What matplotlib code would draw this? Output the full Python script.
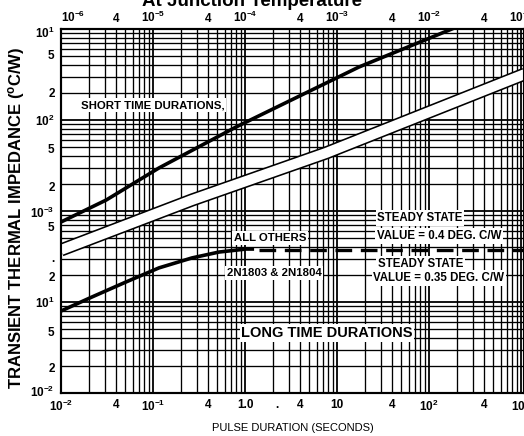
import numpy as np
import matplotlib
matplotlib.use("Agg")
from matplotlib import pyplot as plt

plt.rcParams['font.family'] = ['Liberation Sans', 'DejaVu Sans']
plt.rcParams['font.weight'] = 'bold'
plt.rcParams['mathtext.fontset'] = 'custom'
plt.rcParams['mathtext.rm'] = 'Liberation Sans:bold'
plt.rcParams['mathtext.it'] = 'Liberation Sans:bold'
plt.rcParams['mathtext.bf'] = 'Liberation Sans:bold'

# --- courbes (t en s, Z en unites de l'axe) ---
short_t = [0.01, 0.031, 0.116, 0.8, 17.3, 223]
short_z = [0.757, 1.32, 2.97, 8.38, 38.2, 110]

band_t = [0.01, 0.265, 7.6, 1100]
band_z = [0.373, 1.32, 4.34, 32.0]

long_t = [0.01, 0.0217, 0.0509, 0.116, 0.265, 0.522, 1.03, 1.2]
long_z = [0.0796, 0.1135, 0.166, 0.237, 0.305, 0.354, 0.382, 0.382]

steady_t = [1.42, 1100]
steady_z = [0.373, 0.373]

# graduations
bot_ticks = [1e-2, 4e-2, 1e-1, 0.4, 1.0, 2.2, 4, 10, 40, 100, 400, 1000]
bot_labels = ['10$^{-2}$', '4', '10$^{-1}$', '4', '1.0', '.', '4', '10', '4',
              '10$^{2}$', '4', '10$^{3}$']
top_ticks = [1e-6, 4e-6, 1e-5, 4e-5, 1e-4, 4e-4, 1e-3, 4e-3, 1e-2, 4e-2, 1e-1]
top_labels = ['10$^{-6}$', '4', '10$^{-5}$', '4', '10$^{-4}$', '4', '10$^{-3}$',
              '4', '10$^{-2}$', '4', '10$^{-1}$']
left_ticks = [93, 53, 20, 10, 4.9, 1.85, 0.97, 0.68, 0.31, 0.193, 0.1, 0.047,
              0.0193, 0.0105]
left_labels = ['10$^{1}$', '5', '2', '10$^{2}$', '5', '2', '10$^{-3}$', '5', '.',
               '2', '10$^{1}$', '5', '2', '10$^{-2}$']

xmin, xmax = 0.01, 10 ** (463 / 92 - 2)
ymin, ymax = 0.01, 100

fig = plt.figure(figsize=(5.24, 4.36), dpi=100)
ax = fig.add_axes([61 / 524, 43 / 436, 463 / 524, 364 / 436])
ax.set_xscale('log')
ax.set_yscale('log')
ax.set_xlim(xmin, xmax)
ax.set_ylim(ymin, ymax)

# grille log complete (1..9 par decade)
for d in range(-2, 4):
    for s in range(1, 10):
        v = s * 10.0 ** d
        if xmin <= v <= xmax:
            ax.axvline(v, color='black', lw=1.3 if s == 1 else 0.95, zorder=1)
for d in range(-2, 2):
    for s in range(1, 10):
        v = s * 10.0 ** d
        if ymin <= v <= ymax:
            ax.axhline(v, color='black', lw=1.3 if s == 1 else 0.95, zorder=1)

# courbes
ax.plot(short_t, short_z, color='black', lw=2.6, zorder=3)
ax.plot(band_t, band_z, color='black', lw=9.5, zorder=3, solid_capstyle='butt')
ax.plot(band_t, band_z, color='white', lw=7.2, zorder=4, solid_capstyle='butt')
ax.plot(long_t, long_z, color='black', lw=2.6, zorder=3)
ax.plot(steady_t, steady_z, color='black', lw=2.4, dashes=(5, 2.6), zorder=3)

box = dict(facecolor='white', edgecolor='none', pad=1.2)
ax.text(0.0165, 14.6, 'SHORT TIME DURATIONS,', fontsize=8.2, ha='left', va='center',
        bbox=box, zorder=5)
ax.text(1.87, 0.505, 'ALL OTHERS', fontsize=8.2, ha='center', va='center',
        bbox=box, zorder=5)
ax.text(2.07, 0.208, '2N1803 & 2N1804', fontsize=8.2, ha='center', va='center',
        bbox=box, zorder=5)
ax.text(80, 0.837, 'STEADY STATE', fontsize=8.3, ha='center', va='center',
        bbox=box, zorder=5)
ax.text(128, 0.531, 'VALUE = 0.4 DEG. C/W', fontsize=8.3, ha='center', va='center',
        bbox=box, zorder=5)
ax.text(81, 0.262, 'STEADY STATE', fontsize=8.3, ha='center', va='center',
        bbox=box, zorder=5)
ax.text(128, 0.184, 'VALUE = 0.35 DEG. C/W', fontsize=8.3, ha='center', va='center',
        bbox=box, zorder=5)
ax.text(7.8, 0.0456, 'LONG TIME DURATIONS', fontsize=10.5, ha='center', va='center',
        bbox=box, zorder=5)

ax.set_xticks(bot_ticks, bot_labels)
ax.set_yticks(left_ticks, left_labels)
ax.minorticks_off()
ax.tick_params(axis='x', length=0, labelsize=8.5, pad=4)
ax.tick_params(axis='y', length=0, labelsize=8.5, pad=4.5)

ax2 = ax.twiny()
ax2.set_xscale('log')
ax2.set_xlim(xmin * 1e-4, xmax * 1e-4)
ax2.set_xticks(top_ticks, top_labels)
ax2.minorticks_off()
ax2.tick_params(length=0, labelsize=8.5, pad=3)
ax2.get_xticklabels()[0].set_horizontalalignment('left')

for a in (ax, ax2):
    for sp in a.spines.values():
        sp.set_linewidth(1.5)

ax.set_xlabel('PULSE DURATION (SECONDS)', fontsize=8, labelpad=7)
fig.text(17 / 524, 1 - 218 / 436, 'TRANSIENT THERMAL IMPEDANCE ($^{o}$C/W)',
         rotation=90, ha='center', va='center', fontsize=12)
fig.text(252 / 524, 1 - 6 / 436, 'At Junction Temperature', ha='center',
         va='baseline', fontsize=13.5)

fig.savefig('out.png', dpi=100)
